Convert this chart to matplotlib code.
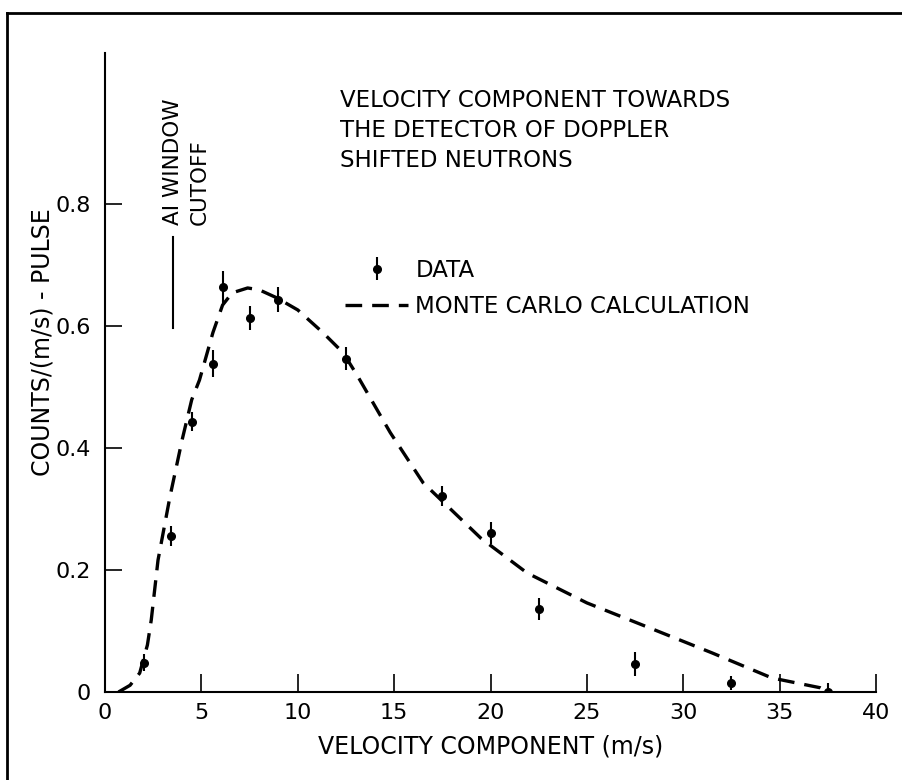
import matplotlib
matplotlib.use("Agg")
import matplotlib.pyplot as plt
from matplotlib.lines import Line2D

plt.rcParams['font.family'] = ['DejaVu Sans']

# Measured data points
vel = [2.0, 3.4, 4.5, 5.6, 6.1, 7.5, 9.0, 12.5, 17.5, 20.0, 22.5, 27.5, 32.5, 37.5]
counts = [0.048, 0.256, 0.443, 0.538, 0.664, 0.613, 0.643, 0.546, 0.321, 0.260, 0.136, 0.046, 0.015, 0.0]
errs = [0.014, 0.016, 0.015, 0.022, 0.026, 0.020, 0.020, 0.019, 0.016, 0.018, 0.018, 0.019, 0.012, 0.015]

# Monte Carlo curve
mc_x = [0.7, 1.3, 1.8, 2.2, 2.4, 2.75, 3.37, 4.0, 4.5, 4.9, 5.6, 6.1, 6.6, 7.4, 8.0,
        8.9, 10.0, 11.3, 12.35, 13.1, 14.8, 16.5, 19.5, 21.9, 25.0, 28.1, 31.5, 34.6, 37.1, 37.5]
mc_y = [0.0, 0.011, 0.031, 0.077, 0.118, 0.216, 0.32, 0.413, 0.479, 0.511, 0.589, 0.634, 0.654,
        0.662, 0.659, 0.646, 0.626, 0.589, 0.556, 0.518, 0.425, 0.343, 0.252, 0.195, 0.146,
        0.107, 0.064, 0.023, 0.007, 0.0]

xticks = [0, 5, 10, 15, 20, 25, 30, 35, 40]
xticklabels = ['0', '5', '10', '15', '20', '25', '30', '35', '40']
yticks = [0, 0.2, 0.4, 0.6, 0.8]
yticklabels = ['0', '0.2', '0.4', '0.6', '0.8']

cutoff_x = [3.53, 3.53]
cutoff_y = [0.597, 0.746]

fig = plt.figure(figsize=(9.02, 7.80), dpi=100)
ax = fig.add_axes([105 / 902, 1 - 692 / 780, 771 / 902, 639 / 780])

ax.plot(mc_x, mc_y, color='black', lw=2.4, dashes=(5, 3),
        label='MONTE CARLO CALCULATION')
eb = ax.errorbar(vel, counts, yerr=errs, fmt='o', color='black', ms=5.5,
                 elinewidth=1.5, capsize=0, label='DATA')

ax.plot(cutoff_x, cutoff_y, color='black', lw=1.5)

ax.set_xlim(0, 40)
ax.set_ylim(0, 1.047)
ax.set_xticks(xticks)
ax.set_xticklabels(xticklabels)
ax.set_yticks(yticks)
ax.set_yticklabels(yticklabels)

for s in ['top', 'right']:
    ax.spines[s].set_visible(False)
for s in ['left', 'bottom']:
    ax.spines[s].set_linewidth(1.5)

ax.tick_params(axis='x', direction='in', length=13, width=1.2, pad=8, labelsize=16)
ax.tick_params(axis='y', direction='in', length=12, width=1.2, pad=10, labelsize=16)

ax.set_xlabel('VELOCITY COMPONENT (m/s)', fontsize=17, labelpad=8)
ax.set_ylabel('COUNTS/(m/s) - PULSE', fontsize=17)
ax.yaxis.set_label_coords(-0.066, 0.548)

fig.text(340 / 902, 1 - 89 / 780,
         'VELOCITY COMPONENT TOWARDS\nTHE DETECTOR OF DOPPLER\nSHIFTED NEUTRONS',
         fontsize=16.5, va='top', ha='left', linespacing=1.4)

ax.text(3.53, 0.765, 'AI WINDOW', rotation=90, fontsize=15.5, ha='center', va='bottom')
ax.text(4.9, 0.765, 'CUTOFF', rotation=90, fontsize=15.5, ha='center', va='bottom')

handles = [eb, ax.lines[0]]
labels = ['DATA', 'MONTE CARLO CALCULATION']
leg = ax.legend(handles, labels, loc='upper left', bbox_to_anchor=(0.285, 0.71),
                frameon=False, fontsize=16.5, handlelength=2.75, handletextpad=0.3,
                labelspacing=0.55)

# figure border (top and left)
fig.add_artist(Line2D([7 / 902, 1.0], [1 - 13 / 780, 1 - 13 / 780], color='black', lw=2,
                      transform=fig.transFigure))
fig.add_artist(Line2D([7 / 902, 7 / 902], [0, 1 - 13 / 780], color='black', lw=2,
                      transform=fig.transFigure))

fig.savefig('out.png', dpi=100)
